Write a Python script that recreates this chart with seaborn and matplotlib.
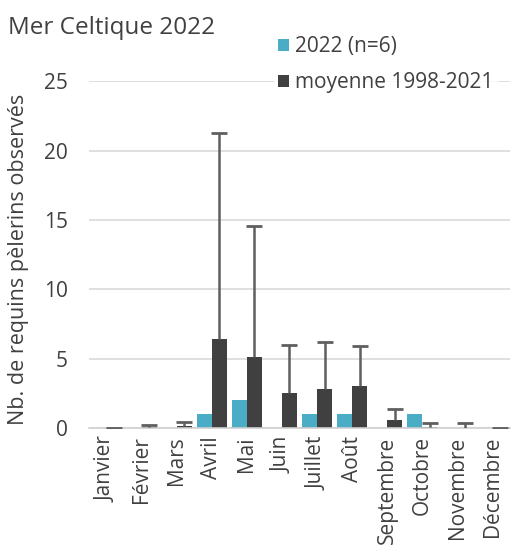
import matplotlib
matplotlib.use("Agg")
import matplotlib.pyplot as plt
import seaborn as sns
import pandas as pd

mois = ["Janvier", "Février", "Mars", "Avril", "Mai", "Juin", "Juillet",
        "Août", "Septembre", "Octobre", "Novembre", "Décembre"]
obs_2022 = [0, 0, 0, 1, 2, 0, 1, 1, 0, 1, 0, 0]
moyenne = [0, 0.05, 0.15, 6.4, 5.1, 2.5, 2.8, 3.05, 0.55, 0.05, 0.03, 0]
ecart_type = [0, 0.17, 0.3, 14.9, 9.5, 3.5, 3.4, 2.9, 0.8, 0.3, 0.32, 0]
serie_2022 = "2022 (n=6)"
serie_moy = "moyenne 1998-2021"

df = pd.DataFrame({
    "mois": mois * 2,
    "valeur": obs_2022 + moyenne,
    "serie": [serie_2022] * 12 + [serie_moy] * 12,
})

sns.set_style("white")
plt.rcParams["font.family"] = ["Open Sans", "DejaVu Sans"]
text_col = "#404040"

fig = plt.figure(figsize=(5.11, 5.53), dpi=100)
ax = fig.add_axes([0.174, 0.226, 0.824, 0.627])

sns.barplot(data=df, x="mois", y="valeur", hue="serie",
            palette=["#4bacc6", "#404040"], saturation=1, width=0.86, gap=0,
            errorbar=None, linewidth=0, ax=ax, zorder=2)

# barres d'erreur (vers le haut seulement) sur la moyenne
bars = ax.containers[1]
xs = [b.get_x() + b.get_width() / 2 for b in bars]
hauts = [m + e for m, e in zip(moyenne, ecart_type)]
ax.vlines(xs, moyenne, hauts, color="#5f5f5f", linewidth=1.8, zorder=3)
ax.scatter(xs, hauts, marker="_", s=130, color="#5f5f5f", linewidths=2, zorder=3)

ax.set_ylim(0, 25)
ax.set_xlim(-0.5, 11.5)
ax.set_yticks([0, 5, 10, 15, 20, 25])
ax.yaxis.grid(True, color="#d9d9d9", linewidth=1.2, zorder=0)
ax.set_axisbelow(True)
for s in ["top", "right", "left"]:
    ax.spines[s].set_visible(False)
ax.spines["bottom"].set_color("#d0d0d0")
ax.spines["bottom"].set_linewidth(1.2)
ax.tick_params(axis="both", length=0, labelsize=15, colors=text_col)
ax.tick_params(axis="y", pad=15)
ax.tick_params(axis="x", rotation=90, pad=6)
ax.set_xlabel("")
ax.set_ylabel("Nb. de requins pèlerins observés", fontsize=15.5, color=text_col)
ax.yaxis.set_label_coords(-0.142, 0.485)

fig.text(0.016, 0.95, "Mer Celtique 2022", fontsize=17.5, color=text_col, va="center")

ax.legend_.remove()
handles, labels = ax.get_legend_handles_labels()
leg = fig.legend(handles, labels, loc="upper left", bbox_to_anchor=(0.537, 0.94),
                 frameon=True, fontsize=15, handlelength=0.55, handleheight=0.55,
                 handletextpad=0.3, labelspacing=0.72, borderpad=0.15, borderaxespad=0)
leg.get_frame().set_facecolor("white")
leg.get_frame().set_edgecolor("white")
leg.get_frame().set_boxstyle("square", pad=0)
for t in leg.get_texts():
    t.set_color(text_col)

plt.savefig("out.png", dpi=100)
plt.close()
